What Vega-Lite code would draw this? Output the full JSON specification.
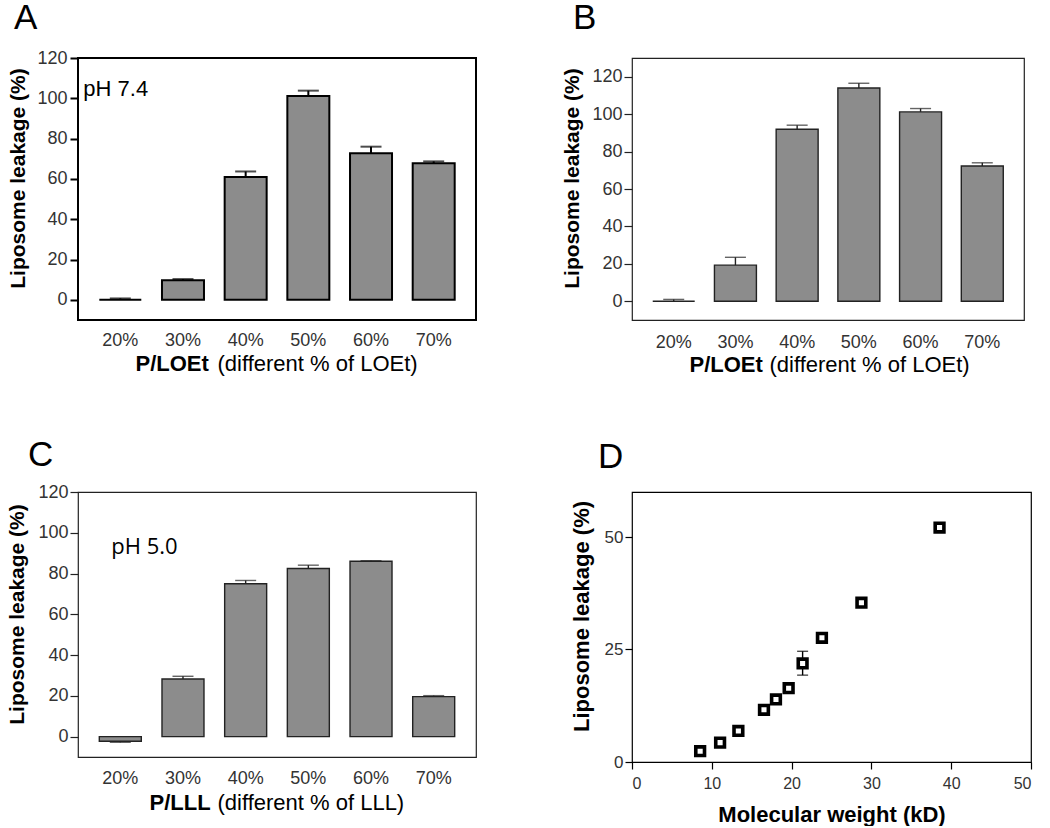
{
  "$schema": "https://vega.github.io/schema/vega-lite/v6.json",
  "background": "white",
  "padding": {"left": 5, "top": 0, "right": 0, "bottom": 0},
  "columns": 2,
  "spacing": {"row": 172, "column": 156},
  "bounds": "flush",
  "align": "each",
  "config": {
    "font": "Liberation Sans",
    "axis": {"grid": false, "labelFont": "Liberation Sans", "titleFont": "Liberation Sans", "labelColor": "#333", "titleColor": "black", "labelAngle": 0},
    "title": {"font": "Liberation Sans", "fontWeight": "normal", "fontSize": 35, "anchor": "start", "frame": "group", "color": "black", "baseline": "alphabetic", "orient": "top"}
  },
  "concat": [
    {
      "width": 398, "height": 262,
      "title": {"text": "A", "dx": -64, "offset": 13},
      "view": {"stroke": "black", "strokeWidth": 2},
      "data": {"values": [
        {"group": "20%", "leakage": 0, "whisker": 0.7},
        {"group": "30%", "leakage": 9.7, "whisker": 10.3},
        {"group": "40%", "leakage": 61, "whisker": 63.7},
        {"group": "50%", "leakage": 101.2, "whisker": 103.8},
        {"group": "60%", "leakage": 72.8, "whisker": 76},
        {"group": "70%", "leakage": 67.8, "whisker": 68.7}
      ]},
      "layer": [
        {
          "mark": {"type": "bar", "fill": "#8c8c8c", "stroke": "black", "strokeWidth": 2},
          "encoding": {
            "x": {"field": "group", "type": "ordinal", "sort": null,
              "scale": {"paddingInner": 0.33, "paddingOuter": 0.34},
              "axis": {"orient": "bottom", "title": "P/LOEt", "titleFontWeight": "bold", "titleFontSize": 22, "titleX": 57, "titleY": 50, "titleAlign": "left", "titleBaseline": "alphabetic", "ticks": false, "tickSize": 0, "domain": false, "labelFontSize": 18, "labelPadding": 11}},
            "y": {"field": "leakage", "type": "quantitative", "title": "Liposome leakage (%)",
              "scale": {"domain": [-10, 120], "nice": false, "zero": false},
              "axis": {"values": [0, 20, 40, 60, 80, 100, 120], "titleFontWeight": "bold", "titleFontSize": 21, "titleX": -54, "titleY": 120, "titleAngle": -90, "titleAlign": "center", "titleBaseline": "alphabetic", "domain": false, "tickSize": 8, "tickWidth": 2, "tickColor": "black", "labelFontSize": 18, "labelPadding": 3}},
            "y2": {"datum": 0}
          }
        },
        {
          "mark": {"type": "rule", "color": "black", "strokeWidth": 2},
          "encoding": {
            "x": {"field": "group", "type": "ordinal", "sort": null,
              "axis": {"orient": "bottom", "title": "(different % of LOEt)", "titleFontWeight": "normal", "titleFontSize": 22, "titleX": 139, "titleY": 50, "titleAlign": "left", "titleBaseline": "alphabetic", "labels": false, "ticks": false, "domain": false}},
            "y": {"field": "leakage", "type": "quantitative", "title": "Liposome leakage (%)"},
            "y2": {"field": "whisker"}
          }
        },
        {
          "mark": {"type": "tick", "color": "black", "size": 21, "thickness": 2},
          "encoding": {
            "x": {"field": "group", "type": "ordinal", "sort": null, "axis": null},
            "y": {"field": "whisker", "type": "quantitative", "title": "Liposome leakage (%)"}
          }
        },
        {
          "data": {"values": [{"group": "20%", "pos": 101, "note": "pH 7.4"}]},
          "mark": {"type": "text", "align": "left", "baseline": "alphabetic", "dx": -37, "fontSize": 22, "font": "Liberation Sans", "color": "black"},
          "encoding": {
            "x": {"field": "group", "type": "ordinal", "sort": null, "axis": null},
            "y": {"field": "pos", "type": "quantitative", "title": "Liposome leakage (%)"},
            "text": {"field": "note"}
          }
        }
      ],
      "resolve": {"axis": {"x": "independent"}}
    },
    {
      "width": 392, "height": 262,
      "title": {"text": "B", "dx": -59, "offset": 22},
      "view": {"stroke": "#222", "strokeWidth": 1.2},
      "data": {"values": [
        {"group": "20%", "leakage": 0, "whisker": 1},
        {"group": "30%", "leakage": 19.3, "whisker": 23.5},
        {"group": "40%", "leakage": 91.9, "whisker": 94.1},
        {"group": "50%", "leakage": 114, "whisker": 116.5},
        {"group": "60%", "leakage": 101.2, "whisker": 103},
        {"group": "70%", "leakage": 72.3, "whisker": 74}
      ]},
      "layer": [
        {
          "mark": {"type": "bar", "fill": "#8c8c8c", "stroke": "#222", "strokeWidth": 1.4},
          "encoding": {
            "x": {"field": "group", "type": "ordinal", "sort": null,
              "scale": {"paddingInner": 0.32, "paddingOuter": 0.336},
              "axis": {"orient": "bottom", "title": "P/LOEt", "titleFontWeight": "bold", "titleFontSize": 22, "titleX": 57, "titleY": 51, "titleAlign": "left", "titleBaseline": "alphabetic", "ticks": false, "tickSize": 0, "domain": false, "labelFontSize": 18, "labelPadding": 13}},
            "y": {"field": "leakage", "type": "quantitative", "title": "Liposome leakage (%)",
              "scale": {"domain": [-10, 130], "nice": false, "zero": false},
              "axis": {"values": [0, 20, 40, 60, 80, 100, 120], "titleFontWeight": "bold", "titleFontSize": 21, "titleX": -54, "titleY": 120, "titleAngle": -90, "titleAlign": "center", "titleBaseline": "alphabetic", "domain": false, "tickSize": 8, "tickWidth": 1.2, "tickColor": "#222", "labelFontSize": 18, "labelPadding": 2}},
            "y2": {"datum": 0}
          }
        },
        {
          "mark": {"type": "rule", "color": "#222", "strokeWidth": 1.4},
          "encoding": {
            "x": {"field": "group", "type": "ordinal", "sort": null,
              "axis": {"orient": "bottom", "title": "(different % of LOEt)", "titleFontWeight": "normal", "titleFontSize": 22, "titleX": 137, "titleY": 51, "titleAlign": "left", "titleBaseline": "alphabetic", "labels": false, "ticks": false, "domain": false}},
            "y": {"field": "leakage", "type": "quantitative", "title": "Liposome leakage (%)"},
            "y2": {"field": "whisker"}
          }
        },
        {
          "mark": {"type": "tick", "color": "#222", "size": 21, "thickness": 1.4},
          "encoding": {
            "x": {"field": "group", "type": "ordinal", "sort": null, "axis": null},
            "y": {"field": "whisker", "type": "quantitative", "title": "Liposome leakage (%)"}
          }
        }
      ],
      "resolve": {"axis": {"x": "independent"}}
    },
    {
      "width": 398, "height": 265,
      "title": {"text": "C", "dx": -50, "offset": 10},
      "view": {"stroke": "#222", "strokeWidth": 1.2},
      "data": {"values": [
        {"group": "20%", "leakage": -2.3, "whisker": -2.8},
        {"group": "30%", "leakage": 28.3, "whisker": 29.6},
        {"group": "40%", "leakage": 75, "whisker": 76.6},
        {"group": "50%", "leakage": 82.5, "whisker": 84.1},
        {"group": "60%", "leakage": 86, "whisker": 86.3},
        {"group": "70%", "leakage": 19.6, "whisker": 20.1}
      ]},
      "layer": [
        {
          "mark": {"type": "bar", "fill": "#8c8c8c", "stroke": "#222", "strokeWidth": 1.4},
          "encoding": {
            "x": {"field": "group", "type": "ordinal", "sort": null,
              "scale": {"paddingInner": 0.33, "paddingOuter": 0.34},
              "axis": {"orient": "bottom", "title": "P/LLL", "titleFontWeight": "bold", "titleFontSize": 22, "titleX": 71, "titleY": 52, "titleAlign": "left", "titleBaseline": "alphabetic", "ticks": false, "tickSize": 0, "domain": false, "labelFontSize": 18, "labelPadding": 12}},
            "y": {"field": "leakage", "type": "quantitative", "title": "Liposome leakage (%)",
              "scale": {"domain": [-10, 120], "nice": false, "zero": false},
              "axis": {"values": [0, 20, 40, 60, 80, 100, 120], "titleFontWeight": "bold", "titleFontSize": 21, "titleX": -55, "titleY": 122, "titleAngle": -90, "titleAlign": "center", "titleBaseline": "alphabetic", "domain": false, "tickSize": 8, "tickWidth": 1.2, "tickColor": "#222", "labelFontSize": 18, "labelPadding": 2}},
            "y2": {"datum": 0}
          }
        },
        {
          "mark": {"type": "rule", "color": "#222", "strokeWidth": 1.4},
          "encoding": {
            "x": {"field": "group", "type": "ordinal", "sort": null,
              "axis": {"orient": "bottom", "title": "(different % of LLL)", "titleFontWeight": "normal", "titleFontSize": 22, "titleX": 139, "titleY": 52, "titleAlign": "left", "titleBaseline": "alphabetic", "labels": false, "ticks": false, "domain": false}},
            "y": {"field": "leakage", "type": "quantitative", "title": "Liposome leakage (%)"},
            "y2": {"field": "whisker"}
          }
        },
        {
          "mark": {"type": "tick", "color": "#222", "size": 21, "thickness": 1.4},
          "encoding": {
            "x": {"field": "group", "type": "ordinal", "sort": null, "axis": null},
            "y": {"field": "whisker", "type": "quantitative", "title": "Liposome leakage (%)"}
          }
        },
        {
          "data": {"values": [{"group": "20%", "pos": 89.4, "note": "pH 5.0"}]},
          "mark": {"type": "text", "align": "left", "baseline": "alphabetic", "dx": -9, "fontSize": 22, "font": "Open Sans", "color": "black"},
          "encoding": {
            "x": {"field": "group", "type": "ordinal", "sort": null, "axis": null},
            "y": {"field": "pos", "type": "quantitative", "title": "Liposome leakage (%)"},
            "text": {"field": "note"}
          }
        }
      ],
      "resolve": {"axis": {"x": "independent"}}
    },
    {
      "width": 399, "height": 270,
      "title": {"text": "D", "dx": -34, "offset": 17},
      "view": {"stroke": "black", "strokeWidth": 1.2},
      "data": {"values": [
        {"mw": 8.54, "leakage": 2.4},
        {"mw": 11.04, "leakage": 4.3},
        {"mw": 13.33, "leakage": 6.9},
        {"mw": 16.54, "leakage": 11.6},
        {"mw": 18.04, "leakage": 13.9},
        {"mw": 19.63, "leakage": 16.4},
        {"mw": 21.38, "leakage": 21.9, "lo": 19.3, "hi": 24.6},
        {"mw": 23.8, "leakage": 27.6},
        {"mw": 28.75, "leakage": 35.4},
        {"mw": 38.54, "leakage": 52.1}
      ]},
      "layer": [
        {
          "transform": [{"filter": "datum.lo != null"}],
          "mark": {"type": "rule", "color": "black", "strokeWidth": 1.4},
          "encoding": {
            "x": {"field": "mw", "type": "quantitative", "scale": {"domain": [0, 50], "nice": false},
              "axis": {"values": [0, 10, 20, 30, 40, 50], "title": "Molecular weight (kD)", "titleFontWeight": "bold", "titleFontSize": 22, "titleY": 59, "titleBaseline": "alphabetic", "domain": false, "tickSize": 7, "tickWidth": 1.2, "tickColor": "black", "labelFontSize": 16, "labelPadding": 6}},
            "y": {"field": "lo", "type": "quantitative", "scale": {"domain": [0, 60], "nice": false},
              "axis": {"values": [0, 25, 50], "title": "Liposome leakage (%)", "titleFontWeight": "bold", "titleFontSize": 22, "titleX": -44, "titleY": 124, "titleAngle": -90, "titleAlign": "center", "titleBaseline": "alphabetic", "domain": false, "tickSize": 7, "tickWidth": 1.2, "tickColor": "black", "labelFontSize": 17, "labelPadding": 2}},
            "y2": {"field": "hi"}
          }
        },
        {
          "transform": [{"filter": "datum.lo != null"}],
          "mark": {"type": "tick", "color": "black", "size": 11, "thickness": 1.4, "orient": "horizontal"},
          "encoding": {
            "x": {"field": "mw", "type": "quantitative"},
            "y": {"field": "lo", "type": "quantitative"}
          }
        },
        {
          "transform": [{"filter": "datum.lo != null"}],
          "mark": {"type": "tick", "color": "black", "size": 11, "thickness": 1.4, "orient": "horizontal"},
          "encoding": {
            "x": {"field": "mw", "type": "quantitative"},
            "y": {"field": "hi", "type": "quantitative"}
          }
        },
        {
          "mark": {"type": "square", "size": 76, "filled": true, "fill": "white", "stroke": "black", "strokeWidth": 3.6, "opacity": 1},
          "encoding": {
            "x": {"field": "mw", "type": "quantitative"},
            "y": {"field": "leakage", "type": "quantitative"}
          }
        }
      ]
    }
  ]
}
